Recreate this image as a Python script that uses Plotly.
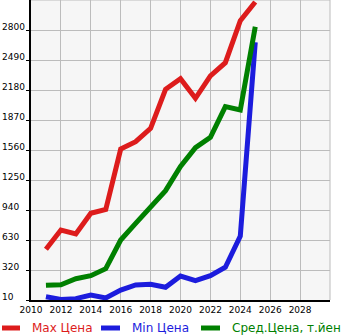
import plotly.graph_objects as go

years = [2011, 2012, 2013, 2014, 2015, 2016, 2017, 2018, 2019, 2020, 2021, 2022, 2023, 2024, 2025]
max_price = [534, 733, 692, 906, 945, 1570, 1646, 1784, 2187, 2297, 2094, 2325, 2462, 2896, 3090]
min_price = [44, 15, 24, 62, 31, 113, 165, 172, 141, 258, 210, 261, 348, 671, 2673]
avg_price = [162, 168, 230, 261, 334, 630, 802, 974, 1140, 1390, 1584, 1691, 2008, 1973, 2834]
y_ticks = [10, 320, 630, 940, 1250, 1560, 1870, 2180, 2490, 2800]
x_ticks = [2010, 2012, 2014, 2016, 2018, 2020, 2022, 2024, 2026, 2028]
series_names = ["Max Цена", "Min Цена", "Сред.Цена, т.йен"]

RED = "#dd1c1c"
BLUE = "#1c1cdd"
GREEN = "#008000"
FONT = "DejaVu Sans"

W, H = 345, 335
ML, MR, MT, MB = 31, 15, 0, 35
PW, PH = W - ML - MR, H - MT - MB


def px_x(p):
    return (p - ML) / PW


def px_y(p):
    return (H - MB - p) / PH


fig = go.Figure()
for vals, col, name in [(max_price, RED, series_names[0]),
                        (min_price, BLUE, series_names[1]),
                        (avg_price, GREEN, series_names[2])]:
    fig.add_trace(go.Scatter(x=years, y=vals, mode="lines", name=name,
                             line=dict(color=col, width=5), showlegend=False))

annotations = []
for v in y_ticks:
    annotations.append(dict(xref="paper", yref="y", x=px_x(0), y=v, text=str(v),
                            xanchor="left", yanchor="middle", yshift=3, showarrow=False,
                            font=dict(family=FONT, size=9, color="black")))

shapes = []
legend_items = [(0, 22, 30, RED, series_names[0]),
                (99, 122, 130, BLUE, series_names[1]),
                (199, 222, 230, GREEN, series_names[2])]
ly = 328
for x0, x1, xt, col, name in legend_items:
    shapes.append(dict(type="line", xref="paper", yref="paper",
                       x0=px_x(x0 + 2), x1=px_x(x1 - 2), y0=px_y(ly), y1=px_y(ly),
                       line=dict(color=col, width=5)))
    annotations.append(dict(xref="paper", yref="paper", x=px_x(xt), y=px_y(ly), text=name,
                            xanchor="left", yanchor="middle", showarrow=False,
                            font=dict(family=FONT, size=12, color=col)))

fig.update_layout(
    width=W, height=H,
    margin=dict(l=ML, r=MR, t=MT, b=MB, pad=0),
    paper_bgcolor="white",
    plot_bgcolor="#f6f6f6",
    font=dict(family=FONT, size=9, color="black"),
    annotations=annotations,
    shapes=shapes,
    xaxis=dict(range=[2010, 2030], tickvals=x_ticks, ticktext=[str(t) for t in x_ticks],
               showgrid=True, gridcolor="#bcbcbc", gridwidth=1, zeroline=False,
               showline=True, linecolor="black", linewidth=2, mirror=False,
               ticks="", tickfont=dict(family=FONT, size=9, color="black")),
    yaxis=dict(range=[10, 3110], tickvals=y_ticks, showticklabels=False,
               showgrid=True, gridcolor="#bcbcbc", gridwidth=1, zeroline=False,
               showline=True, linecolor="black", linewidth=2,
               ticks="outside", ticklen=3, tickcolor="black", tickwidth=1),
)
# right and top borders
shapes.append(dict(type="line", xref="paper", yref="paper", x0=1, x1=1, y0=0, y1=1,
                   line=dict(color="#bcbcbc", width=1)))
shapes.append(dict(type="line", xref="paper", yref="paper", x0=0, x1=1, y0=1, y1=1,
                   line=dict(color="#bcbcbc", width=1)))
fig.update_layout(shapes=shapes)

fig.write_html("out.html")
